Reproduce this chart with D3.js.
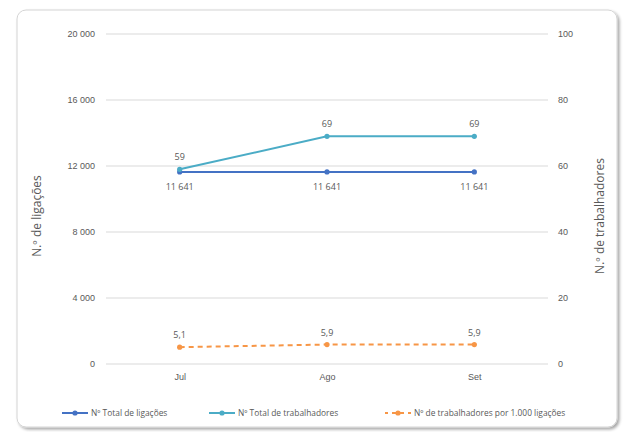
<!DOCTYPE html>
<html><head><meta charset="utf-8">
<script src="https://cdn.jsdelivr.net/npm/d3@7"></script>
<style>body{margin:0;background:#fff;}svg{display:block;font-family:"Open Sans",sans-serif;}</style>
</head><body><svg id="c" width="629" height="432"></svg>
<script>
const categories = ["Jul","Ago","Set"];
const ligacoes = [11641, 11641, 11641];
const trabalhadores = [59, 69, 69];
const porMil = [5.1, 5.9, 5.9];
const leftTicks = [0, 4000, 8000, 12000, 16000, 20000];
const rightTicks = [0, 20, 40, 60, 80, 100];
const seriesNames = ["Nº Total de ligações","Nº Total de trabalhadores","Nº de trabalhadores por 1.000 ligações"];

const svg = d3.select("#c");
const defs = svg.append("defs");
const f = defs.append("filter").attr("id","sh").attr("x","-5%").attr("y","-5%").attr("width","110%").attr("height","110%");
f.append("feDropShadow").attr("dx",2).attr("dy",2).attr("stdDeviation",1.5).attr("flood-color","#000").attr("flood-opacity",0.35);
svg.append("rect").attr("x",17).attr("y",10).attr("width",600).attr("height",417).attr("rx",9)
  .attr("fill","#fff").attr("stroke","#d4d4d4").attr("stroke-width",1).attr("filter","url(#sh)");

const x0 = 106, x1 = 548, yTop = 34, yBot = 364;
const x = d3.scalePoint().domain(categories).range([x0,x1]).padding(0.5);
const yL = d3.scaleLinear().domain([0,20000]).range([yBot,yTop]);
const yR = d3.scaleLinear().domain([0,100]).range([yBot,yTop]);
const fmt = v => d3.format(",")(v).replace(/,/g," ");
const txt = "#595959";

svg.append("g").selectAll("line").data(leftTicks).join("line")
  .attr("x1",x0).attr("x2",x1).attr("y1",d=>yL(d)).attr("y2",d=>yL(d))
  .attr("stroke","#d9d9d9").attr("stroke-width",1);

const gl = svg.append("g").attr("transform",`translate(${x0},0)`)
  .call(d3.axisLeft(yL).tickValues(leftTicks).tickFormat(d=>d===0?"0":fmt(d)).tickSize(0).tickPadding(11));
gl.select(".domain").remove();
gl.selectAll("text").attr("fill",txt).style("font-size","9px");

const gr = svg.append("g").attr("transform",`translate(${x1},0)`)
  .call(d3.axisRight(yR).tickValues(rightTicks).tickSize(0).tickPadding(10));
gr.select(".domain").remove();
gr.selectAll("text").attr("fill",txt).style("font-size","9px");

const gx = svg.append("g").attr("transform",`translate(0,${yBot})`)
  .call(d3.axisBottom(x).tickSize(0).tickPadding(10));
gx.select(".domain").remove();
gx.selectAll("text").attr("fill",txt).style("font-size","9px");

svg.append("text").attr("transform",`translate(41,${(yTop+yBot)/2+17}) rotate(-90)`)
  .attr("text-anchor","middle").attr("fill",txt).style("font-size","12px").text("N.º de ligações");
svg.append("text").attr("transform",`translate(604,${(yTop+yBot)/2+17}) rotate(-90)`)
  .attr("text-anchor","middle").attr("fill",txt).style("font-size","12px").text("N.º de trabalhadores");

const series = [
  {vals:ligacoes, y:yL, color:"#4472c4", dash:null, lab:d=>fmt(d), below:true},
  {vals:trabalhadores, y:yR, color:"#4bacc6", dash:null, lab:d=>String(d), below:false},
  {vals:porMil, y:yR, color:"#f79646", dash:"5,4", lab:d=>d3.format(".1f")(d).replace(".",","), below:false}
];
series.forEach(s=>{
  const data = categories.map((c,i)=>({c,v:s.vals[i]}));
  svg.append("path").datum(data).attr("fill","none").attr("stroke",s.color).attr("stroke-width",2)
    .attr("stroke-dasharray",s.dash)
    .attr("d",d3.line().x(d=>x(d.c)).y(d=>s.y(d.v)));
  svg.append("g").selectAll("circle").data(data).join("circle")
    .attr("cx",d=>x(d.c)).attr("cy",d=>s.y(d.v)).attr("r",2.6).attr("fill",s.color);
  svg.append("g").selectAll("text").data(data).join("text")
    .attr("x",d=>x(d.c)).attr("y",d=>s.y(d.v)+(s.below?18:-9))
    .attr("text-anchor","middle").attr("fill",txt).style("font-size","9px").text(d=>s.lab(d.v));
});

const legX = [62, 209, 385];
const lg = svg.append("g");
series.forEach((s,i)=>{
  const g = lg.append("g").attr("transform",`translate(${legX[i]},413)`);
  g.append("line").attr("x1",0).attr("x2",26).attr("y1",0).attr("y2",0)
    .attr("stroke",s.color).attr("stroke-width",2).attr("stroke-dasharray",s.dash?"4,4":null)
    .attr("stroke-dashoffset",s.dash?1:null);
  g.append("circle").attr("cx",13).attr("cy",0).attr("r",2.6).attr("fill",s.color);
  g.append("text").attr("x",29).attr("y",3).attr("fill",txt).style("font-size","8.4px").text(seriesNames[i]);
});
</script></body></html>
